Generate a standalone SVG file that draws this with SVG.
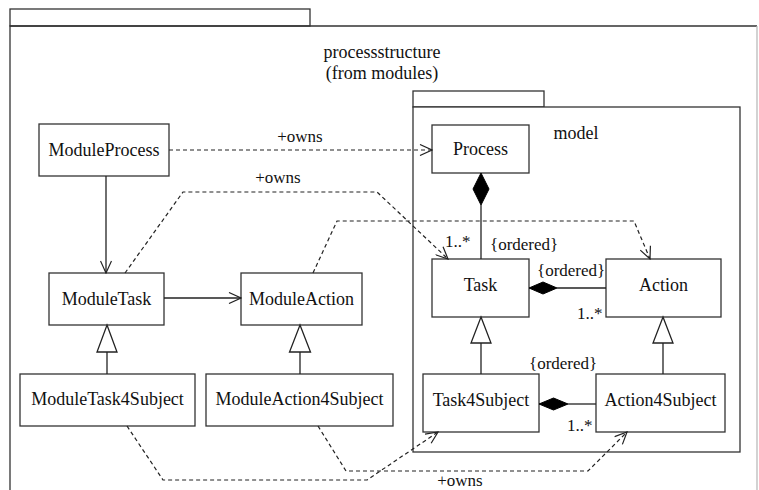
<svg xmlns="http://www.w3.org/2000/svg" width="759" height="490" viewBox="0 0 759 490">
<style>
  .pkg{fill:#fff;stroke:#333;stroke-width:1.3}
  .box{fill:#fff;stroke:#333;stroke-width:1.3}
  .t{font-family:'Liberation Serif','DejaVu Serif',serif;font-size:18px;fill:#111;text-anchor:middle}
  .lbl{font-family:'Liberation Serif','DejaVu Serif',serif;font-size:17px;fill:#111}
  .solid{fill:none;stroke:#222;stroke-width:1.3}
  .dash{fill:none;stroke:#222;stroke-width:1.2;stroke-dasharray:4,3}
  .dia{fill:#000;stroke:#000;stroke-width:1}
  .tri{fill:#fff;stroke:#222;stroke-width:1.3}
  .ah{fill:none;stroke:#222;stroke-width:1.2}
</style>
<defs>
  <marker id="open" markerUnits="userSpaceOnUse" viewBox="0 0 14 12" refX="13" refY="6" markerWidth="14" markerHeight="12" orient="auto">
    <path class="ah" d="M1,0.5 L13,6 L1,11.5"/>
  </marker>
</defs>
<rect width="759" height="490" fill="#fff"/>
<g id="pkg-processstructure">
  <rect class="pkg" x="10" y="9" width="300" height="17"/>
  <path d="M10,500 L10,26 L757,26" fill="none" stroke="#333" stroke-width="1.3"/>
  <path d="M757,26 L757,500" fill="none" stroke="#bbb" stroke-width="1.3"/>
  <text class="t" x="382" y="58" font-size="17">processstructure</text>
  <text class="t" x="382" y="79" font-size="17">(from modules)</text>
</g>
<g id="pkg-model">
  <rect class="pkg" x="413" y="91" width="131" height="16"/>
  <rect class="pkg" x="413" y="107" width="327" height="345"/>
  <text class="t" x="576" y="139">model</text>
</g>
<g id="ModuleProcess"><rect class="box" x="39" y="124" width="130" height="52"/><text class="t" x="104" y="156">ModuleProcess</text></g>
<g id="ModuleTask"><rect class="box" x="49" y="273" width="115" height="52"/><text class="t" x="106.5" y="305">ModuleTask</text></g>
<g id="ModuleAction"><rect class="box" x="241" y="273" width="121" height="52"/><text class="t" x="301.5" y="305">ModuleAction</text></g>
<g id="ModuleTask4Subject"><rect class="box" x="20" y="374" width="175" height="52"/><text class="t" x="107.5" y="405">ModuleTask4Subject</text></g>
<g id="ModuleAction4Subject"><rect class="box" x="206" y="374" width="187" height="52"/><text class="t" x="299.5" y="405">ModuleAction4Subject</text></g>
<g id="Process"><rect class="box" x="432" y="125" width="97" height="48"/><text class="t" x="480.5" y="155">Process</text></g>
<g id="Task"><rect class="box" x="432" y="259" width="97" height="58"/><text class="t" x="480.5" y="291">Task</text></g>
<g id="Action"><rect class="box" x="606" y="259" width="115" height="58"/><text class="t" x="663.5" y="291">Action</text></g>
<g id="Task4Subject"><rect class="box" x="423" y="374" width="116" height="58"/><text class="t" x="481" y="406">Task4Subject</text></g>
<g id="Action4Subject"><rect class="box" x="596" y="374" width="129" height="58"/><text class="t" x="660.5" y="406">Action4Subject</text></g>
<g id="connectors">
  <line class="solid" x1="106" y1="176" x2="106" y2="273" marker-end="url(#open)"/>
  <line class="solid" x1="164" y1="298" x2="241" y2="298" marker-end="url(#open)"/>
  <line class="dash" x1="169" y1="150" x2="432" y2="150" marker-end="url(#open)"/>
  <text class="lbl" x="300" y="142" text-anchor="middle">+owns</text>
  <polyline class="dash" points="125,273 183,192 377,192 448,259" marker-end="url(#open)"/>
  <text class="lbl" x="278" y="183" text-anchor="middle">+owns</text>
  <polyline class="dash" points="313,273 337,221 634,221 650,259" marker-end="url(#open)"/>
  <polyline class="dash" points="127,426 163,480 367,480 438,432" marker-end="url(#open)"/>
  <polyline class="dash" points="318,426 346,471 588,471 627,432" marker-end="url(#open)"/>
  <text class="lbl" x="460" y="486" text-anchor="middle">+owns</text>
  <line class="solid" x1="481" y1="205" x2="481" y2="259"/>
  <polygon class="dia" points="481,173 489,189 481,205 473,189"/>
  <text class="lbl" x="445" y="247">1..*</text>
  <text class="lbl" x="490" y="250">{ordered}</text>
  <line class="solid" x1="557" y1="288" x2="606" y2="288"/>
  <polygon class="dia" points="529,288 543,282 557,288 543,294"/>
  <text class="lbl" x="537" y="276">{ordered}</text>
  <text class="lbl" x="577" y="319">1..*</text>
  <line class="solid" x1="568" y1="404" x2="596" y2="404"/>
  <polygon class="dia" points="539,404 553.5,398 568,404 553.5,410"/>
  <text class="lbl" x="529" y="369">{ordered}</text>
  <text class="lbl" x="567" y="431">1..*</text>
  <line class="solid" x1="107" y1="352" x2="107" y2="374"/>
  <polygon class="tri" points="107,325 117,352 97,352"/>
  <line class="solid" x1="300" y1="352" x2="300" y2="374"/>
  <polygon class="tri" points="300,325 310.5,352 289.5,352"/>
  <line class="solid" x1="481" y1="343" x2="481" y2="374"/>
  <polygon class="tri" points="481,317 491,343 471,343"/>
  <line class="solid" x1="663" y1="343" x2="663" y2="374"/>
  <polygon class="tri" points="663,317 673,343 653,343"/>
</g>
</svg>
